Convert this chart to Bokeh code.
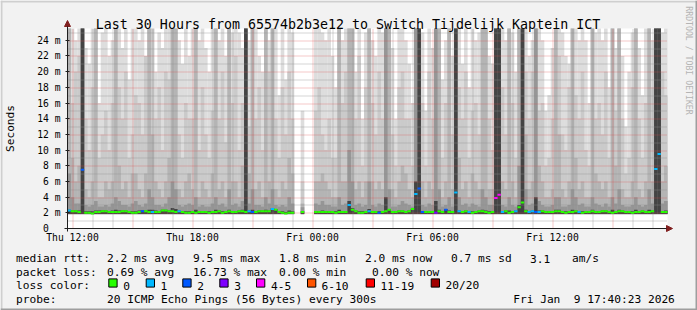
import math
from bokeh.plotting import figure
from bokeh.models import Range1d, FixedTicker, Label, Arrow, NormalHead
from bokeh.embed import file_html
from bokeh.resources import INLINE

# ---------------- data ----------------
T0 = 11.75          # left edge of the graph: hours since Thu 00:00
SPAN = 30.0         # hours shown
STEP = 1.0 / 6.0    # 10 minute columns
YMAX = 25.5         # top of the graph (ms)

x_tick_hours = [12, 18, 24, 30, 36]
x_tick_labels = ["Thu 12:00", "Thu 18:00", "Fri 00:00", "Fri 06:00", "Fri 12:00"]
x_major_grid = [12, 15, 18, 21, 24, 27, 30, 33, 36, 39]
x_minor_grid = [13, 14, 16, 17, 19, 20, 22, 23, 25, 26, 28, 29, 31, 32, 34, 35, 37, 38, 40, 41]
y_tick_ms = [0, 2, 4, 6, 8, 10, 12, 14, 16, 18, 20, 22, 24]
y_tick_labels = ["0\u00a0\u00a0", "2 m", "4 m", "6 m", "8 m", "10 m", "12 m",
                 "14 m", "16 m", "18 m", "20 m", "22 m", "24 m"]
y_major_grid = [2, 4, 6, 8, 10, 12, 14, 16, 18, 20, 22, 24]
y_minor_grid = [1, 3, 5, 7, 9, 11, 13, 15, 17, 19, 21, 23, 25]

N = None
# smoke: top of each shade layer per 10-minute column (ms), light -> dark
smoke_max = [26,26,24,26,26,23,21,26,26,16, 25,26,22,24,26,26,23,26,19,26,
             26,24,26,22,26,26,20,25,23,26, 26,26,26,24,21,26,22,26,26,24,
             26,23,20,26,26,24,26,22,26,25, 26,25,23,26,24,26,26,22,20,26,
             24,26,26,17,26,19,26,25,N,N,   15,N,N,N,26,26,25,24,26,22,
             18,26,24,26,26,26,20,26,14,25, 26,24,22,26,25,26,26,23,14,26,
             26,24,21,16,26,26,25,15,26,23, 26,26,19,24,26,22,26,26,21,26,
             18,26,24,25,26,26,22,21,26,26, 26,24,26,25,20,26,26,26,22,24,
             26,26,24,15,17,23,26,26,25,22, 21,26,26,24,26,24,16,26,25,26,
             24,26,18,26,23,26,22,13,20,25, 26,23,17,26,26,24,26,26,25,26]
smoke_l2 = [26,16,20,22,26,14,10,18,26,9, 12,15,10,16,26,18,14,20,9,12,
            17,16,12,22,26,26,14,18,10,20, 19,26,26,12,9,16,14,14,26,10,
            18,12,9,15,26,14,20,11,26,16, 22,10,16,26,13,26,14,18,10,26,
            20,26,14,9,18,12,20,14,N,N,   6,N,N,N,15,18,12,10,14,9,
            9,26,16,20,26,26,14,22,8,18,  26,16,12,20,14,26,26,12,8,18,
            20,14,14,8,26,26,16,8,20,14,  26,26,9,16,26,12,26,18,14,20,
            9,15,16,12,26,26,14,10,26,26, 18,12,26,16,9,26,26,20,14,20,
            26,15,16,8,9,14,26,22,12,10,  18,26,17,14,20,10,8,26,14,16,
            12,20,9,26,15,26,14,7,9,18,   26,14,9,16,26,18,26,26,20,17]
smoke_l3 = [26,9,6,8,26,5,4,6,26,4, 4,6,5,6,26,8,5,6,4,7,
            7,5,4,7,26,12,6,5,4,6,  9,26,26,5,4,6,7,5,26,4,
            6,5,4,7,26,5,6,4,26,6,  6,4,8,26,7,26,5,6,4,26,
            6,26,5,4,6,5,9,7,N,N,   3.2,N,N,N,6,6,7,6,5,4,
            4,26,6,6,26,26,5,6,4,6, 26,6,5,6,5,26,26,5,4,6,
            8,7,5,4,26,26,6,4,6,5,  26,26,4,6,26,5,26,9,5,6,
            4,7,6,5,26,26,5,5,26,26, 6,5,26,6,4,26,26,12,5,6,
            26,8,6,4,4,5,26,12,5,4,  6,26,9,5,6,4,4,26,7,6,
            5,6,4,26,8,26,5,4,4,6,   26,5,4,6,26,6,26,26,6,8]
smoke_l4 = [7,4,3.2,3.2,26,3,2.8,3,3.5,2.8, 2.8,3,2.8,3.2,4,3.5,3,3,2.8,3.2,
            3.5,3,2.8,3.2,5,4,3,3,2.8,3.2, 4,6,5,3,2.8,3,3.2,3,4,2.8,
            3,2.8,2.8,3.2,4,3,3.2,2.8,5,3, 3.2,2.8,3.5,26,3.2,5,3,3,2.8,4,
            3.2,5,3,2.8,3,2.8,4,3.2,N,N,   2.7,N,N,N,3.2,3,3.5,3,3,2.8,
            2.8,4,3,3.2,10,6,3,3.2,2.8,3,  6,3,2.8,3.2,3,26,5,2.8,2.8,3,
            3.5,3.2,3,2.8,26,26,3,2.8,3.2,3, 26,5,2.8,3,4,2.8,26,4,3,3.2,
            2.8,3.2,3,2.8,5,4,3,3,26,26,   3,2.8,4,3,2.8,8,26,5,3,3.2,
            26,3.5,3,2.8,2.8,3,4,4,2.8,2.8, 3,5,4,3,3.2,2.8,2.8,4,3.2,3,
            2.8,3.2,2.8,4,3.2,5,3,2.8,2.8,3, 4,3,2.8,3,5,3.2,26,26,3.2,3.5]
smoke_l5 = [2.4,2.3,2.3,2.3,26,2.2,2.2,2.2,2.3,2.3, 2.3,2.3,2.2,2.3,2.4,2.3,2.3,2.3,2.2,2.2,
            2.2,2.3,2.3,2.3,2.4,2.4,2.3,2.2,2.4,2.4, 2.3,2.6,2.5,2.3,2.2,2.2,2.2,2.2,2.4,2.2,
            2.2,2.2,2.2,2.2,2.4,2.3,2.2,2.2,2.4,2.2, 2.2,2.3,2.4,26,2.3,2.4,2.2,2.3,2.3,2.4,
            2.3,2.6,2.5,2.2,2.2,2.1,2.3,2.2,N,N,     2.2,N,N,N,2.2,2.2,2.3,2.2,2.2,2.2,
            2.2,2.4,2.2,2.2,3.5,2.6,2.3,2.2,2.2,2.2, 2.5,2.2,2.2,2.2,2.2,4,2.5,2.2,2.2,2.3,
            2.3,2.2,2.3,2.5,6,26,2.2,2.2,2.2,2.2,    3.5,2.4,2.2,2.5,2.3,2.2,26,2.3,2.2,2.3,
            2.2,2.2,2.2,2.3,2.4,2.3,2.2,2.2,26,26,   2.2,2.3,2.3,2.2,2.3,3,26,2.4,2.2,2.3,
            4,2.3,2.3,2.2,2.2,2.2,2.4,2.4,2.2,2.2,   2.2,2.4,2.3,2.2,2.2,2.2,2.2,2.4,2.2,2.2,
            2.3,2.3,2.2,2.4,2.2,2.4,2.3,2.2,2.2,2.2, 2.4,2.2,2.3,2.2,2.4,2.3,26,26,2.2,2.3]
median_ms = [2.3,2.2,2.2,2.1,7.5,2.0,2.0,1.9,2.1,2.1, 2.2,2.2,2.1,2.1,2.1,2.1,2.2,2.2,2.1,2.0,
             2.0,2.1,2.2,2.2,2.1,2.1,2.1,2.1,2.3,2.3, 2.2,2.2,2.1,2.2,2.1,2.0,2.0,2.1,2.0,2.1,
             2.1,2.1,2.0,2.1,2.1,2.2,2.0,2.1,2.2,2.1, 2.1,2.2,2.2,2.1,2.2,2.1,2.1,2.2,2.2,2.2,
             2.2,2.5,2.4,2.1,2.0,1.9,2.0,2.0,N,N,     2.1,N,N,N,2.1,2.1,2.1,2.1,2.1,2.1,
             2.0,2.1,2.1,2.1,3.0,2.4,2.2,2.0,2.0,2.1, 2.2,2.1,2.1,2.0,2.1,2.2,2.4,2.1,2.1,2.2,
             2.2,2.1,2.2,2.5,4.4,5.1,2.1,2.1,2.1,2.1, 2.0,2.2,2.1,2.4,2.1,2.1,4.6,2.2,2.1,2.2,
             2.1,2.0,2.1,2.2,2.2,2.1,2.0,2.1,3.9,4.3, 2.1,2.2,2.0,2.1,2.2,2.7,3.3,2.2,2.1,2.2,
             2.1,2.1,2.2,2.1,2.1,2.1,2.2,2.2,2.1,2.0, 2.1,2.1,2.2,2.1,2.0,2.1,2.1,2.2,2.1,2.1,
             2.2,2.2,2.1,2.0,2.1,2.2,2.2,2.1,2.1,2.0, 2.1,2.1,2.2,2.1,2.1,2.2,7.6,9.5,2.1,2.1]
loss_pings = [1,0,0,0,2,0,0,0,0,0, 0,0,0,0,0,0,0,0,0,0,
              0,0,2,0,0,1,0,0,0,0, 0,0,0,1,0,0,0,0,0,0,
              0,0,0,0,0,0,0,0,0,0, 0,0,0,0,1,2,0,0,0,0,
              0,1,0,0,0,0,0,0,0,0, 0,0,0,0,0,0,0,0,0,0,
              0,0,0,0,1,0,0,0,0,0, 1,0,0,2,0,0,0,0,0,0,
              0,0,0,0,1,2,2,0,0,0, 3,0,0,2,0,0,1,1,0,0,
              1,0,0,0,0,0,0,0,5,4, 1,0,0,0,1,0,0,0,1,1,
              2,1,0,0,0,0,0,0,0,0, 0,0,0,1,0,0,0,0,0,0,
              0,0,0,0,0,0,0,0,0,0, 0,0,0,0,0,0,1,1,0,0]

loss_labels = ["0", "1", "2", "3", "4-5", "6-10", "11-19", "20/20"]
loss_colors = ["#26ff00", "#00b8ff", "#0059ff", "#7e00ff", "#ff00ff",
               "#ff5500", "#ff0000", "#a10000"]

title_text = "Last 30 Hours from 65574b2b3e12 to Switch Tijdelijk Kaptein ICT"
rtt_items = ["2.2 ms avg", "9.5 ms max", "1.8 ms min", "2.0 ms now", "0.7 ms sd", "3.1", "am/s"]
pl_items = ["0.69 % avg", "16.73 % max", "0.00 % min", "0.00 % now"]
probe_text = "20 ICMP Echo Pings (56 Bytes) every 300s"
stamp_text = "Fri Jan\u00a0\u00a09 17:40:23 2026"

# ---------------- pixel layout helpers ----------------
W, H = 697, 310
FL, FR, FT, FB = 67.0, 667.0, 28.0, 228.0     # graph canvas inside the image
def dx(px):
    return T0 + (px - FL) * SPAN / (FR - FL)
def dy(py):
    return (FB - py) * YMAX / (FB - FT)
PXH = SPAN / (FR - FL)      # one pixel in x data units
PXV = YMAX / (FB - FT)      # one pixel in y data units

MONO = "DejaVu Sans Mono"

p = figure(width=W, height=H, x_range=Range1d(dx(0), dx(W)),
           y_range=Range1d(dy(H), dy(0)), output_backend="svg",
           toolbar_location=None, min_border=0, min_border_left=0,
           min_border_right=0, min_border_top=0, min_border_bottom=0,
           background_fill_color="#f2f2f2", border_fill_color="#f2f2f2",
           outline_line_color=None)
p.title.visible = False
p.xgrid.visible = False
p.ygrid.visible = False

# 3D frame of the image
p.quad(left=[dx(0), dx(0), dx(0), dx(W - 2)], right=[dx(W), dx(2), dx(W), dx(W)],
       top=[dy(0), dy(0), dy(H - 2), dy(0)], bottom=[dy(2), dy(H), dy(H), dy(H)],
       fill_color=["#cfcfcf", "#cfcfcf", "#9e9e9e", "#9e9e9e"], line_color=None)

# white graph canvas
p.quad(left=[T0], right=[T0 + SPAN], bottom=[0], top=[YMAX],
       fill_color="white", line_color=None)

# ---------------- smoke ----------------
layers = [(smoke_max, 1.75, "#dddddd"), (smoke_l2, 1.8, "#cacaca"),
          (smoke_l3, 1.85, "#b4b4b4"), (smoke_l4, 1.85, "#969696"),
          (smoke_l5, 1.85, "#444444")]
for vals, base, col in layers:
    xs, tops = [], []
    for i, v in enumerate(vals):
        if v is None:
            continue
        xs.append(T0 + (i + 0.5) * STEP)
        tops.append(min(v, YMAX))
    p.vbar(x=xs, width=STEP + 0.012, bottom=base, top=tops,
           fill_color=col, line_color=None)

# ---------------- grid (dotted, drawn over the smoke like rrdtool) ----------------
def vgrid(hours, color, alpha):
    xs = [h + 0.5 * PXH for h in hours]
    p.segment(x0=xs, x1=xs, y0=[0] * len(xs), y1=[YMAX] * len(xs),
              line_color=color, line_alpha=alpha, line_width=1, line_dash="1 1")
def hgrid(vals, color, alpha):
    ys = [dy(round(FB - v / PXV) + 0.5) for v in vals]
    p.segment(x0=[T0] * len(ys), x1=[T0 + SPAN] * len(ys), y0=ys, y1=ys,
              line_color=color, line_alpha=alpha, line_width=1, line_dash="1 1")
vgrid(x_minor_grid, "#8f8f8f", 0.75)
hgrid(y_minor_grid, "#8f8f8f", 0.75)
vgrid(x_major_grid, "#de4f4f", 0.6)
hgrid(y_major_grid, "#de4f4f", 0.6)

# ---------------- median, coloured by loss ----------------
def loss_idx(n):
    if n <= 3:
        return n
    if n <= 5:
        return 4
    if n <= 10:
        return 5
    if n <= 19:
        return 6
    return 7

mx0, mx1, my, mc = [], [], [], []
for i, m in enumerate(median_ms):
    if m is None:
        continue
    mx0.append(T0 + i * STEP)
    mx1.append(T0 + (i + 1) * STEP)
    my.append(m)
    mc.append(loss_colors[loss_idx(loss_pings[i])])
p.segment(x0=mx0, x1=mx1, y0=my, y1=my, line_color=mc, line_width=2,
          line_cap="butt")

# ---------------- axes ----------------
p.xaxis.fixed_location = 0
p.xaxis.bounds = (T0 - 3 * PXH, T0 + SPAN + 1 * PXH)
p.yaxis.fixed_location = T0
p.yaxis.bounds = (0 - 3 * PXV, YMAX)
p.xaxis.ticker = FixedTicker(ticks=x_tick_hours)
p.xaxis.major_label_overrides = dict(zip(x_tick_hours, x_tick_labels))
p.yaxis.ticker = FixedTicker(ticks=y_tick_ms)
p.yaxis.major_label_overrides = dict(zip(y_tick_ms, y_tick_labels))
for ax in (p.xaxis, p.yaxis):
    ax.axis_line_color = "#1f1f1f"
    ax.major_label_text_font = MONO
    ax.major_label_text_font_size = "9.7px"
    ax.major_label_text_color = "black"
    ax.minor_tick_line_color = None
    ax.major_tick_line_color = "#1f1f1f"
p.xaxis.major_tick_in = 0
p.xaxis.major_tick_out = 0
p.xaxis.major_label_standoff = 3
p.yaxis.major_tick_in = 2
p.yaxis.major_tick_out = 2
p.yaxis.major_label_standoff = 5

# axis arrows
p.add_layout(Arrow(end=NormalHead(size=6, fill_color="#801f1f", line_color="#801f1f"),
                   x_start=dx(664), y_start=0, x_end=dx(672), y_end=0,
                   line_color="#1f1f1f", line_width=1))
p.add_layout(Arrow(end=NormalHead(size=6, fill_color="#801f1f", line_color="#801f1f"),
                   x_start=T0, y_start=dy(30), x_end=T0, y_end=dy(20),
                   line_color="#1f1f1f", line_width=1))

# ---------------- texts ----------------
def txt(px, py, s, size="11.2px", align="left", baseline="alphabetic",
        angle=0.0, color="black"):
    p.add_layout(Label(x=dx(px), y=dy(py), text=s, text_font=MONO,
                       text_font_size=size, text_align=align,
                       text_baseline=baseline, angle=angle, text_color=color))

txt(347.5, 24.3, title_text, size="13.3px", align="center")
txt(10, 128, "Seconds", size="11.1px", align="center", baseline="middle",
    angle=math.pi / 2)
txt(688, 60, "RRDTOOL / TOBI OETIKER", size="8.2px", align="center",
    baseline="middle", angle=-math.pi / 2, color="#b4b4b4")

txt(15.5, 258.3, "median rtt:")
for s, x in zip(rtt_items, [106.5, 192.5, 278.5, 364.5, 450.5, 529.5, 571.5]):
    txt(x, 258.3, s)
txt(15.5, 271.8, "packet loss:")
for s, x in zip(pl_items, [106.5, 192.5, 278.5, 371.5]):
    txt(x, 271.8, s)
txt(15.5, 285.3, "loss color:")
box_x = [108.3, 145.7, 182.3, 219.3, 256.0, 307.0, 365.7, 430.7]
lab_x = [122.8, 160.0, 196.8, 233.8, 270.5, 321.0, 380.0, 445.0]
p.quad(left=[dx(b) for b in box_x], right=[dx(b + 8.3) for b in box_x],
       top=[dy(278.4)] * len(box_x), bottom=[dy(286.6)] * len(box_x),
       fill_color=loss_colors, line_color="black", line_width=1)
for lab, lx in zip(loss_labels, lab_x):
    txt(lx, 285.3, lab)
txt(15.5, 298.8, "probe:")
txt(106.5, 298.8, probe_text)
txt(512.7, 298.8, stamp_text)

open("out.html", "w").write(file_html(p, INLINE))
